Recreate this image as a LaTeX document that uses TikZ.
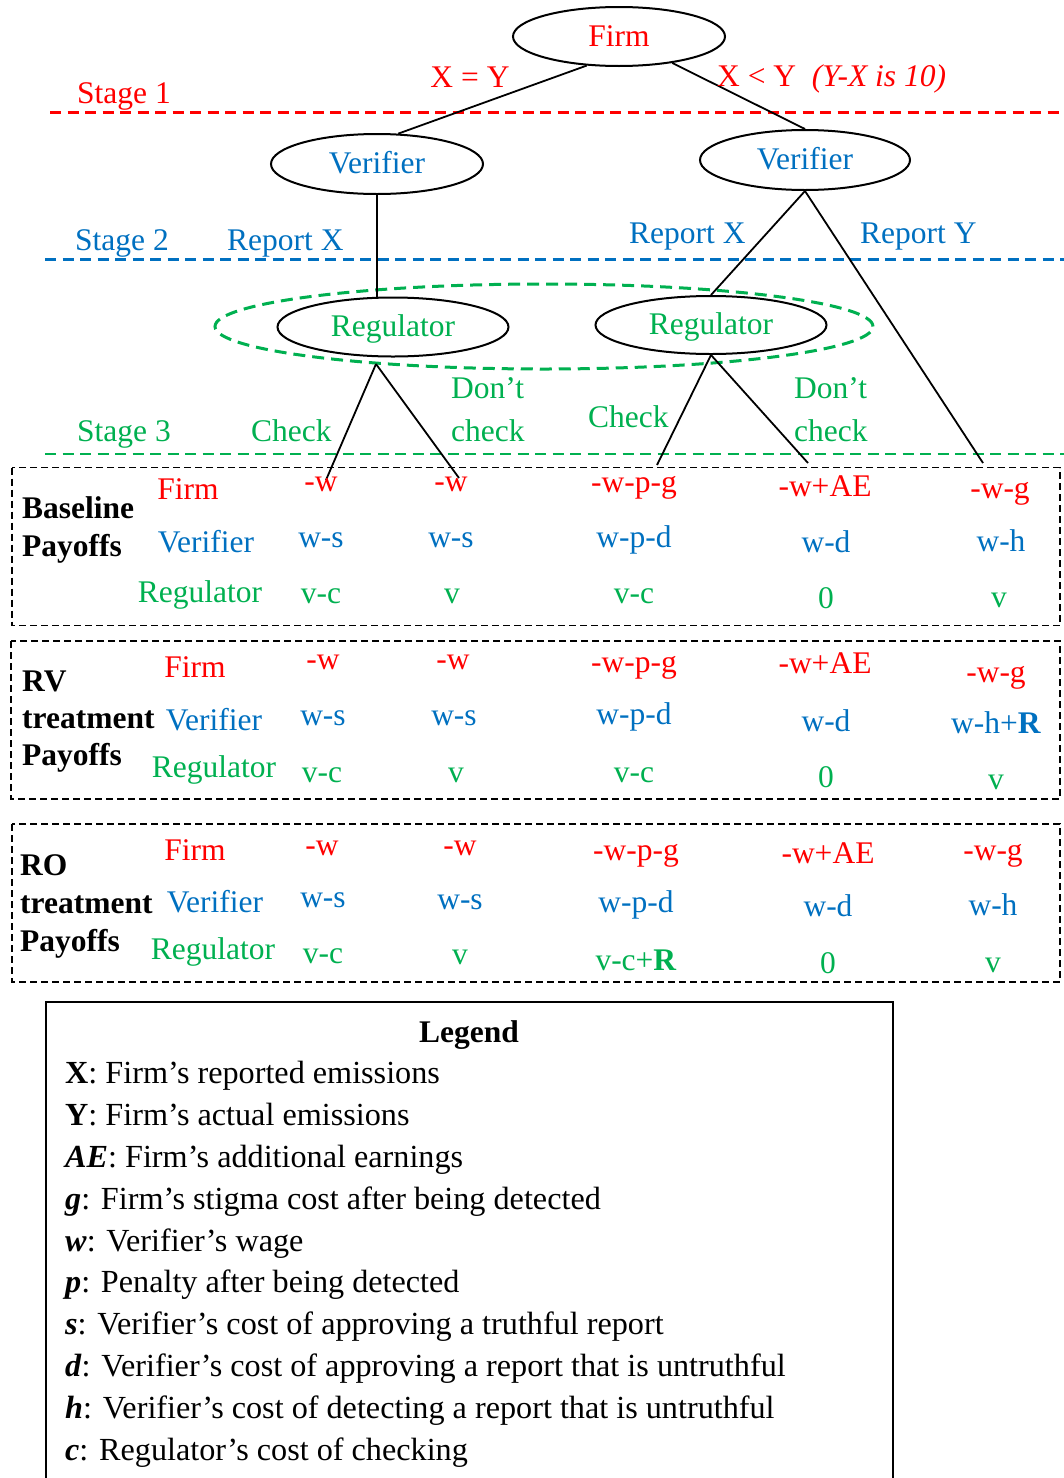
\documentclass[tikz,border=0pt]{standalone}
\usepackage{fontspec}
\setmainfont{Liberation Serif}
\usetikzlibrary{shapes.geometric}
\definecolor{firmred}{RGB}{255,0,0}
\definecolor{verblue}{RGB}{0,112,192}
\definecolor{reggreen}{RGB}{0,176,80}

\begin{document}
\begin{tikzpicture}[
    x=1pt, y=-1pt,
    font=\fontsize{31.5}{37.5}\selectfont,
    % Estilos de nodos
    player/.style={ellipse, draw=black, line width=2pt, inner sep=0pt, text height=19pt, text depth=0pt, minimum width=212pt, minimum height=59pt},
    info set/.style={ellipse, draw=reggreen, line width=3pt, dash pattern=on 12pt off 7pt, minimum width=658pt, minimum height=85pt},
    lbl/.style={anchor=base west, inner sep=0pt},
    payoff/.style={anchor=base, inner sep=0pt},
    row name/.style={anchor=base, inner sep=0pt},
    group name/.style={anchor=base west, inner sep=0pt, font=\fontsize{31.5}{37.5}\selectfont\bfseries},
    legend item/.style={anchor=base west, inner sep=0pt, font=\fontsize{32.2}{38}\selectfont},
    % Estilos de lineas
    move/.style={line width=1.8pt, black},
    stage line/.style={line width=2.5pt, dash pattern=on 11pt off 6.5pt},
    payoff box/.style={line width=1.8pt, dash pattern=on 7pt off 4pt}
]
\useasboundingbox (0,0) rectangle (1064,1478);

% 1. Lineas de etapa
\draw[stage line, firmred] (50,112.5) -- (1064,112.5);
\draw[stage line, verblue] (45,259.5) -- (1064,259.5);
\draw[stage line, reggreen] (45,454) -- (1064,454);
\node[lbl, text=firmred] (st1) at (77,103) {Stage 1};
\node[lbl, text=verblue] (st2) at (75,250) {Stage 2};
\node[lbl, text=reggreen] (st3) at (77,441) {Stage 3};

% 2. Arbol
\node[info set] (infoset) at (544,326.5) {};
\node[player, text=firmred] (firm) at (619,36.5) {Firm};
\node[player, text=verblue, minimum height=60pt] (verL) at (377,164) {Verifier};
\node[player, text=verblue, minimum width=210pt, minimum height=60pt] (verR) at (805,160) {Verifier};
\node[player, text=reggreen, minimum width=231pt] (regL) at (393,327) {Regulator};
\node[player, text=reggreen, minimum width=231pt, minimum height=58pt] (regR) at (711,325) {Regulator};

\coordinate (apexL) at (376,364);
\coordinate (chkL) at (326,480);
\coordinate (dntL) at (459,478);
\coordinate (chkR) at (657,465);
\coordinate (dntR) at (808,463);
\coordinate (endY) at (983,463);

\draw[move] (firm.222) -- (verL.55);
\draw[move] (firm) -- (verR.north);
\draw[move] (verL.south) -- (verL.south |- regL.north);
\draw[move] (verR.south) -- (regR.north);
\draw[move] (verR.south) -- (endY);
\draw[move] (apexL) -- (chkL);
\draw[move] (apexL) -- (dntL);
\draw[move] (regR.south) -- (chkR);
\draw[move] (regR.south) -- (dntR);

% 3. Etiquetas de las jugadas
\node[payoff, text=firmred] (eq) at (470,87) {X = Y};
\node[lbl, text=firmred] (lt) at (717,86) {X < Y\hspace{0.5em}\textit{(Y-X is 10)}};
\node[lbl, text=verblue] (repXL) at (227,250) {Report X};
\node[lbl, text=verblue] (repXR) at (629,243) {Report X};
\node[lbl, text=verblue] (repY) at (860,243) {Report Y};
\node[lbl, text=reggreen] (chkLt) at (251,441) {Check};
\node[lbl, text=reggreen] (dntLa) at (451,398) {Don’t};
\node[lbl, text=reggreen] (dntLb) at (451,441) {check};
\node[lbl, text=reggreen] (chkRt) at (588,427) {Check};
\node[lbl, text=reggreen] (dntRa) at (794,398) {Don’t};
\node[lbl, text=reggreen] (dntRb) at (794,441) {check};

% 4. Cajas de pagos
\draw[payoff box] (12,467.5) rectangle (1060,625.5);
\draw[payoff box] (11,641) rectangle (1060,799);
\draw[payoff box] (12,824) rectangle (1060,982);

\foreach \txt/\py [count=\i] in {Baseline/518, Payoffs/556}
    \node[group name] (base\i) at (22,\py) {\txt};
\foreach \txt/\py [count=\i] in {RV/691, treatment/728, Payoffs/765}
    \node[group name] (rv\i) at (22,\py) {\txt};
\foreach \txt/\py [count=\i] in {RO/875, treatment/913, Payoffs/951}
    \node[group name] (ro\i) at (20,\py) {\txt};

% Nombres de filas
\foreach \px/\py [count=\i] in {188/499, 195/677, 195/860}
    \node[row name, text=firmred] (nameF\i) at (\px,\py) {Firm};
\foreach \px/\py [count=\i] in {206/552, 214/730, 215/912}
    \node[row name, text=verblue] (nameV\i) at (\px,\py) {Verifier};
\foreach \px/\py [count=\i] in {200/602, 214/777, 213/959}
    \node[row name, text=reggreen] (nameR\i) at (\px,\py) {Regulator};

% Pagos: texto/x/linea base
\foreach \txt/\px/\py [count=\i] in {
    -w/321/491, -w/451/491, -w-p-g/634/492, -w+AE/825/496, -w-g/1000/498,
    -w/323/669, -w/453/669, -w-p-g/634/672, -w+AE/825/673, -w-g/996/682,
    -w/322/855, -w/460/855, -w-p-g/636/860, -w+AE/828/863, -w-g/993/860}
    \node[payoff, text=firmred] (payF\i) at (\px,\py) {\txt};
\foreach \txt/\px/\py [count=\i] in {
    w-s/321/547, w-s/451/547, w-p-d/634/547, w-d/826/552, w-h/1001/551,
    w-s/323/725, w-s/454/725, w-p-d/634/724, w-d/826/731, {w-h+\textbf{R}}/996/733,
    w-s/323/907, w-s/460/909, w-p-d/636/912, w-d/828/916, w-h/993/915}
    \node[payoff, text=verblue] (payV\i) at (\px,\py) {\txt};
\foreach \txt/\px/\py [count=\i] in {
    v-c/321/603, v/452/603, v-c/634/603, 0/826/608, v/999/607,
    v-c/322/782, v/456/782, v-c/634/782, 0/826/787, v/996/789,
    v-c/323/963, v/460/964, {v-c+\textbf{R}}/636/970, 0/828/973, v/993/972}
    \node[payoff, text=reggreen] (payR\i) at (\px,\py) {\txt};

% 5. Leyenda
\draw[line width=1.5pt] (46,1480) |- (893,1002) -- (893,1480);
\node[payoff, font=\fontsize{31.5}{37.5}\selectfont\bfseries] (legend) at (469,1042) {Legend};
\foreach \sym/\desc [count=\i] in {
    \textbf{X}/Firm’s reported emissions,
    \textbf{Y}/Firm’s actual emissions,
    \textbf{\itshape AE}/Firm’s additional earnings,
    \textbf{\itshape g}/Firm’s stigma cost after being detected,
    \textbf{\itshape w}/Verifier’s wage,
    \textbf{\itshape p}/Penalty after being detected,
    \textbf{\itshape s}/Verifier’s cost of approving a truthful report,
    \textbf{\itshape d}/Verifier’s cost of approving a report that is untruthful,
    \textbf{\itshape h}/Verifier’s cost of detecting a report that is untruthful,
    \textbf{\itshape c}/Regulator’s cost of checking}
    \node[legend item] (leg\i) at (65,1042+41.8*\i) {\sym: \desc};

\end{tikzpicture}
\end{document}
